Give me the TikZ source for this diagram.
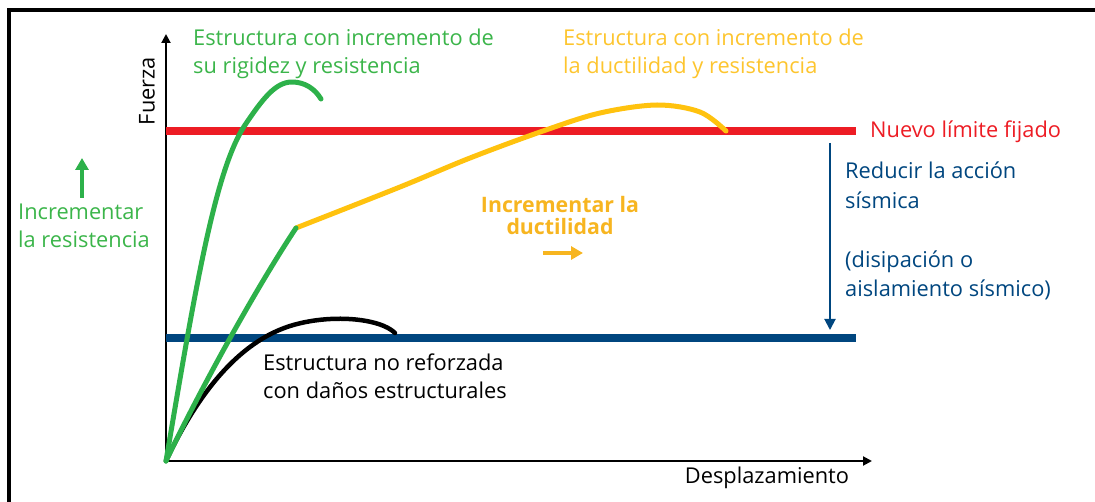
\documentclass[tikz,border=0pt]{standalone}
\usepackage{fontspec}
\setmainfont{Open Sans}
\usetikzlibrary{arrows.meta}
\definecolor{cred}{HTML}{ED1C24}
\definecolor{cblue}{HTML}{00467F}
\definecolor{cgreen}{HTML}{2DB14A}
\definecolor{cgtext}{HTML}{3BB54A}
\definecolor{cyellow}{HTML}{FFC20E}
\definecolor{cytext}{HTML}{FDC52E}
\definecolor{corange}{HTML}{F7B520}
\begin{document}
\begin{tikzpicture}[x=1pt,y=-1pt,
  lab/.style={font=\fontsize{21.8}{28}\selectfont, inner sep=0pt, align=left, anchor=west},
  curve/.style={line width=5pt, line cap=round, line join=round},
  limit/.style={line width=7.5pt},
  axis/.style={line width=2pt, -{Triangle[length=9pt,width=9pt]}}]
\useasboundingbox (0,0) rectangle (1095,502);
% frame
\draw[line width=4pt] (9,502) -- (9,10.5) -- (1095,10.5);
% axes
\coordinate (O) at (166,461);
\coordinate (ytip) at (166,34);
\coordinate (xtip) at (872,461);
\draw[axis] (O) -- (ytip);
\draw[axis] (O) -- (xtip);
\node[lab, anchor=center, rotate=90] (fuerza) at (147,91) {Fuerza};
\node[lab, anchor=center] (desp) at (767,478) {Desplazamiento};
% limit lines
\coordinate (r1) at (166,131); \coordinate (r2) at (856,131);
\coordinate (b1) at (166,338); \coordinate (b2) at (856,338);
\draw[limit, cred] (r1) -- (r2);
\draw[limit, cblue] (b1) -- (b2);
\node[lab, text=cred] (nuevo) at (870,132) {Nuevo límite fijado};
% reduce arrow
\coordinate (a1) at (830,143); \coordinate (a2) at (830,330);
\draw[cblue, line width=2pt, -{Triangle[length=11pt,width=11pt]}] (a1) -- (a2);
\node[lab, text=cblue, font=\fontsize{21.8}{29.5}\selectfont] (reducir) at (845,231)
  {Reducir la acción\\sísmica\\[29.5pt](disipación o\\aislamiento sísmico)};
% black curve
\draw[curve, black, line width=4.5pt] (O) .. controls (190,410) and (230,345) .. (290,326)
  .. controls (330,313.5) and (380,318) .. (395,333);
% green curves
\draw[curve, cgreen] (O) .. controls (195,290) and (215,170) .. (245,125)
  .. controls (262,100) and (275,82) .. (292,82)
  .. controls (305,82) and (315,89) .. (321,99);
\draw[curve, cyellow] plot[smooth, tension=0.55] coordinates
  {(296,228) (400,187) (470,158) (543,131) (600,113) (657,105) (700,112) (726,131)};
\coordinate (knee) at (296,228);
\draw[curve, cgreen] (O) .. controls (200,390) and (255,290) .. (knee);
% labels
\node[lab, text=cgtext] (green) at (193,54) {Estructura con incremento de\\su rigidez y resistencia};
\node[lab, text=cytext] (yellow) at (563,54) {Estructura con incremento de\\la ductilidad y resistencia};
\node[lab, text=black] (black) at (263,376) {Estructura no reforzada\\con daños estructurales};
\node[lab, text=cgtext] (incres) at (18,226) {Incrementar\\la resistencia};
\node[lab, anchor=center, align=center, text=corange, font=\bfseries\fontsize{21.3}{22}\selectfont] (incduc) at (560,216) {Incrementar la\\ductilidad};
% small arrows
\coordinate (ga1) at (82,198); \coordinate (ga2) at (82,158);
\draw[cgreen, line width=3.5pt, -{Triangle[length=12pt,width=13pt]}] (ga1) -- (ga2);
\coordinate (oa1) at (543,253); \coordinate (oa2) at (583,253);
\draw[corange, line width=3.5pt, -{Triangle[length=12pt,width=13pt]}] (oa1) -- (oa2);
\end{tikzpicture}
\end{document}
